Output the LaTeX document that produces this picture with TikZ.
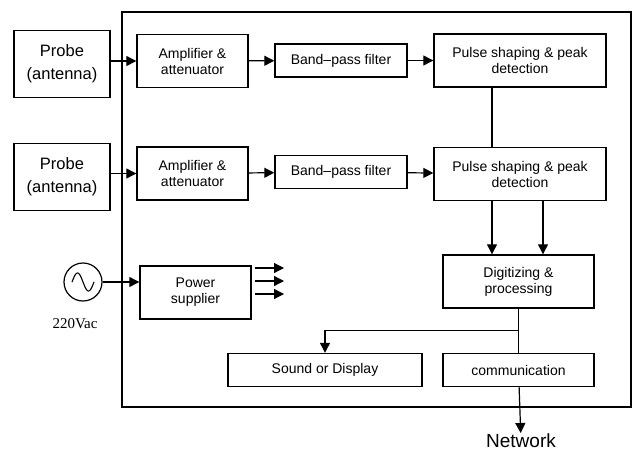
\documentclass[tikz,border=0pt]{standalone}
\usepackage{fontspec}
\setmainfont{Liberation Sans}
\newfontfamily\vacfont{Liberation Serif}
\usetikzlibrary{arrows.meta, positioning, calc}

\begin{document}
\begin{tikzpicture}[x=1pt, y=-1pt,
  block/.style={rectangle, draw, line width=1.4pt, align=center, inner sep=0pt,
    font=\fontsize{14}{16}\selectfont},
  probe/.style={block, minimum width=96pt, minimum height=67pt,
    font=\fontsize{16.5}{23}\selectfont},
  amp/.style={block, minimum width=111pt, minimum height=53pt},
  filt/.style={block, minimum width=132pt, minimum height=33pt},
  pulse/.style={block, minimum width=172pt, minimum height=53pt},
  arr/.style={-{Triangle[length=10pt, width=10pt]}, line width=1.2pt},
  wire/.style={line width=1.2pt}
]
\useasboundingbox (0,0) rectangle (636,456);

% outer case
\node[draw, line width=1.6pt, minimum width=509pt, minimum height=395pt] (case) at (376.5,209.5) {};

% channel 1
\node[probe] (probe1) at (62,64) {Probe\\(antenna)};
\node[amp] (amp1) at (192.5,61) {Amplifier \&\\attenuator};
\node[filt] (bpf1) at (341,60.5) {Band--pass filter};
\node[pulse] (pulse1) at (520,60.5) {Pulse shaping \& peak\\detection};

% channel 2
\node[probe] (probe2) at (62,177) {Probe\\(antenna)};
\node[amp] (amp2) at (192.5,173.5) {Amplifier \&\\attenuator};
\node[filt] (bpf2) at (341,172) {Band--pass filter};
\node[pulse] (pulse2) at (520,174) {Pulse shaping \& peak\\detection};

% processing
\node[block, minimum width=151pt, minimum height=53pt] (dig) at (518.5,281.5) {Digitizing \&\\processing};
\node[block, minimum width=194pt, minimum height=33pt] (sound) at (325,370) {Sound or Display};
\node[block, minimum width=151pt, minimum height=33pt] (comm) at (518.5,370) {communication};
\node[anchor=north, inner sep=1pt, font=\fontsize{19}{19}\selectfont] (net) at (521,433) {Network};

% power
\node[circle, draw, line width=1.2pt, minimum size=38pt, inner sep=0pt] (ac) at (83,282) {};
\draw[line width=1.1pt, shift={(ac.center)}] plot[domain=-11:11, samples=40, smooth] (\x, {9*sin(\x*16.4)});
\node[inner sep=0pt, font=\vacfont\fontsize{15}{15}\selectfont] (vac) at (75,324) {220Vac};
\node[amp] (power) at (195.5,292.5) {Power\\supplier};

\draw[arr] (probe1.east |- amp1) -- (amp1);
\draw[arr] (amp1) -- (bpf1);
\draw[arr] (bpf1) -- (pulse1);
\draw[arr] (probe2.east |- amp2) -- (amp2);
\draw[arr] (amp2) -- (bpf2);
\draw[arr] (bpf2) -- (pulse2);

\coordinate (p1a) at ([xshift=-28pt]pulse1.south);
\draw[wire] (p1a) -- (p1a |- pulse2.north);
\coordinate (p2a) at ([xshift=-28pt]pulse2.south);
\coordinate (p2b) at ([xshift=23pt]pulse2.south);
\draw[arr] (p2a) -- (p2a |- dig.north);
\draw[arr] (p2b) -- (p2b |- dig.north);

\coordinate (br) at ($(dig.south)!0.5!(comm.north)$);
\draw[wire] (dig) -- (comm);
\draw[arr] (br) -| (sound.north);
\draw[arr] (comm) -- (net);

\draw[arr] (ac.east) -- (ac.east -| power.west);
\foreach \i/\y in {1/268, 2/281, 3/294} {
  \coordinate (ps\i) at (255,\y);
  \coordinate (pe\i) at (284,\y);
  \draw[arr] (ps\i) -- (pe\i);
}
\end{tikzpicture}
\end{document}
